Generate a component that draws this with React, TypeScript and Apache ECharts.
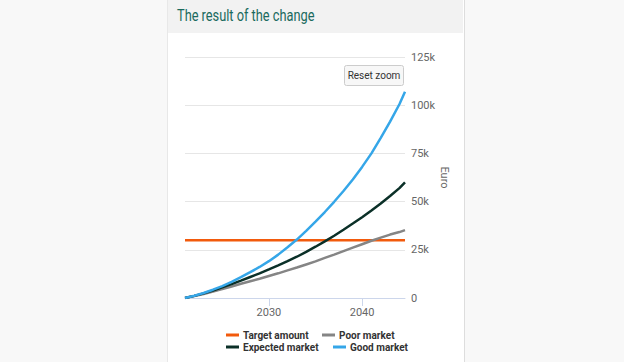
import React, { useEffect, useRef } from "react";
import * as echarts from "echarts";

const years = [2021, 2022, 2023, 2024, 2025, 2026, 2027, 2028, 2029, 2030, 2031, 2032, 2033, 2034, 2035, 2036, 2037, 2038, 2039, 2040, 2041, 2042, 2043, 2044, 2044.6];
const goodMarket = [0, 1200, 2600, 4300, 6200, 8400, 10800, 13400, 16100, 19100, 22500, 26300, 30300, 34800, 39600, 44600, 49900, 55500, 61500, 68000, 75000, 83000, 91500, 100500, 107000];
const expectedMarket = [0, 1100, 2400, 3900, 5500, 7200, 9000, 10900, 12800, 14800, 16900, 19100, 21400, 23900, 26600, 29400, 32300, 35400, 38600, 41900, 45400, 49000, 52900, 57000, 60000];
const poorMarket = [0, 1000, 2100, 3300, 4600, 6000, 7400, 8700, 10000, 11400, 12800, 14300, 15800, 17400, 19000, 20800, 22500, 24300, 26100, 27900, 29700, 31300, 32900, 34200, 35200];
const targetAmount = 30000;
const xTickLabels = [2030, 2040];
const yTicks = [0, 25000, 50000, 75000, 100000, 125000];
const legendNames = ["Target amount", "Poor market", "Expected market", "Good market"];

const pair = (arr: number[]) => arr.map((v, i) => [years[i], v]);

export default function App() {
  const ref = useRef<HTMLDivElement>(null);
  useEffect(() => {
    if (!ref.current) return;
    const chart = echarts.init(ref.current, null, { renderer: "svg" });
    const font = "Roboto, 'Noto Sans', sans-serif";
    const legendPos = [
      { left: 226, top: 330 },
      { left: 322, top: 330 },
      { left: 226, top: 342 },
      { left: 333, top: 342 },
    ];
    chart.setOption({
      animation: false,
      textStyle: { fontFamily: font },
      grid: { left: 185, right: 219, top: 57, bottom: 64, containLabel: false },
      xAxis: {
        type: "value",
        min: years[0],
        max: years[years.length - 1],
        axisLine: { show: true, lineStyle: { color: "#ccd6eb", width: 1 } },
        axisTick: { show: true, customValues: xTickLabels, length: 8, lineStyle: { color: "#ccd6eb" } },
        axisLabel: { customValues: xTickLabels, color: "#666666", fontSize: 11, margin: 9, formatter: (v: number) => String(v) },
        splitLine: { show: false },
      },
      yAxis: {
        type: "value",
        position: "right",
        min: yTicks[0],
        max: yTicks[yTicks.length - 1],
        interval: 25000,
        axisLine: { show: false },
        axisTick: { show: false },
        axisLabel: { color: "#666666", fontSize: 11, margin: 6, formatter: (v: number) => (v === 0 ? "0" : v / 1000 + "k") },
        splitLine: { lineStyle: { color: "#e6e6e6", width: 1 } },
        name: "Euro",
        nameLocation: "middle",
        nameGap: 22,
        nameRotate: -90,
        nameTextStyle: { color: "#666666", fontSize: 11 },
      },
      legend: legendNames.map((n, i) => ({
        data: [n],
        left: legendPos[i].left,
        top: legendPos[i].top,
        itemWidth: 13,
        itemHeight: 3,
        icon: "rect",
        textStyle: { color: "#333333", fontSize: 10, fontWeight: "bold", padding: [0, 0, 0, -1] },
        padding: 0,
      })),
      graphic: [
        {
          type: "text",
          x: 177,
          y: 16,
          scaleX: 0.8,
          style: { text: "The result of the change", fill: "#1a6a5e", font: "16px Roboto, sans-serif", verticalAlign: "middle", align: "left" },
        },
        {
          type: "group",
          left: 344,
          top: 65,
          z: 100,
          children: [
            { type: "rect", shape: { x: 0, y: 0, width: 59, height: 20, r: 2 }, style: { fill: "#f7f7f7", stroke: "#cccccc", lineWidth: 1 } },
            { type: "text", x: 29.5, y: 10, style: { text: "Reset zoom", fill: "#333333", font: "10px Roboto, sans-serif", align: "center", verticalAlign: "middle" } },
          ],
        },
      ],
      series: [
        {
          name: "Target amount",
          type: "line",
          data: [[years[0], targetAmount], [years[years.length - 1], targetAmount]],
          showSymbol: false,
          lineStyle: { color: "#f25a0c", width: 2.5 },
          itemStyle: { color: "#f25a0c" },
        },
        {
          name: "Poor market",
          type: "line",
          data: pair(poorMarket),
          showSymbol: false,
          lineStyle: { color: "#858585", width: 2.5 },
          itemStyle: { color: "#858585" },
        },
        {
          name: "Expected market",
          type: "line",
          data: pair(expectedMarket),
          showSymbol: false,
          lineStyle: { color: "#0b3028", width: 2.5 },
          itemStyle: { color: "#0b3028" },
        },
        {
          name: "Good market",
          type: "line",
          data: pair(goodMarket),
          showSymbol: false,
          lineStyle: { color: "#35a6e8", width: 2.5 },
          itemStyle: { color: "#35a6e8" },
        },
      ],
    });
    return () => chart.dispose();
  }, []);

  return (
    <div style={{ position: "absolute", left: 0, top: 0, width: 624, height: 362, background: "#f8f8f8", overflow: "hidden" }}>
      <div style={{ position: "absolute", left: 167, top: 0, width: 296, height: 362, background: "#ffffff", borderLeft: "1px solid #e8e8e8", borderRight: "1px solid #dddddd" }} />
      <div style={{ position: "absolute", left: 168, top: 0, width: 295, height: 33, background: "#f2f2f2" }} />
      <div ref={ref} style={{ position: "absolute", left: 0, top: 0, width: 624, height: 362 }} />
    </div>
  );
}
